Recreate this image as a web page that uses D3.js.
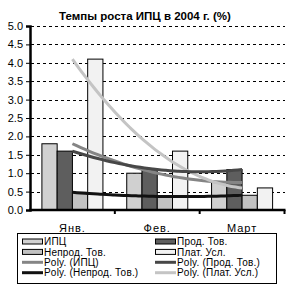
<!DOCTYPE html>
<html>
<head>
<meta charset="utf-8">
<script src="https://cdn.jsdelivr.net/npm/d3@7"></script>
<style>
  body { margin: 0; background: #fff; }
  svg { display: block; font-family: "Liberation Sans", Arial, sans-serif; }
</style>
</head>
<body>
<svg id="chart"></svg>
<script>
var width = 288;
var height = 288;

var months = ["Янв.", "Фев.", "Март"];
var series = ["ИПЦ", "Прод. Тов.", "Непрод. Тов.", "Плат. Усл."];
var cpi = [1.8, 1.0, 0.75];
var food = [1.6, 1.1, 1.1];
var nonFood = [0.48, 0.37, 0.4];
var services = [4.1, 1.6, 0.6];
var yTicks = [0, 0.5, 1, 1.5, 2, 2.5, 3, 3.5, 4, 4.5, 5];

var barColors = ["#d0d0d0", "#5e5e5e", "#c2c2c2", "#f2f2f2"];
var trendColors = ["#858585", "#474747", "#111111", "#c4c4c4"];
var values = [cpi, food, nonFood, services];

var svg = d3.select("#chart").attr("width", width).attr("height", height);

var x0 = d3.scaleBand().domain(months).range([30, 284.5]);
var x1 = d3.scaleBand().domain(series).range([0, x0.bandwidth()]).paddingOuter(0.78);
var y = d3.scaleLinear().domain([0, 5]).range([210, 26]);

// title
svg.append("text")
  .attr("x", 145)
  .attr("y", 20)
  .attr("text-anchor", "middle")
  .attr("font-size", 11.5)
  .attr("font-weight", "bold")
  .text("Темпы роста ИПЦ в 2004 г. (%)");

// gridlines
svg.append("g")
  .selectAll("line")
  .data(yTicks.slice(1))
  .enter()
  .append("line")
  .attr("x1", 31)
  .attr("x2", 285)
  .attr("y1", function (d) { return Math.round(y(d)) + 0.5; })
  .attr("y2", function (d) { return Math.round(y(d)) + 0.5; })
  .attr("stroke", "#000")
  .attr("stroke-dasharray", "3,3");

// bars
var groups = svg.append("g")
  .selectAll("g")
  .data(months)
  .enter()
  .append("g")
  .attr("transform", function (d) { return "translate(" + x0(d) + ",0)"; });

groups.selectAll("rect")
  .data(function (m, i) {
    return series.map(function (s, j) { return { s: s, j: j, v: values[j][i] }; });
  })
  .enter()
  .append("rect")
  .attr("x", function (d) { return x1(d.s); })
  .attr("y", function (d) { return y(d.v); })
  .attr("width", x1.bandwidth())
  .attr("height", function (d) { return y(0) - y(d.v); })
  .attr("fill", function (d) { return barColors[d.j]; })
  .attr("stroke", "#000")
  .attr("stroke-width", 1);

// polynomial (order 2) trendlines, as Excel draws them
function polyFit(vals) {
  return function (t) {
    var l0 = (t - 1) * (t - 2) / 2;
    var l1 = -t * (t - 2);
    var l2 = t * (t - 1) / 2;
    return vals[0] * l0 + vals[1] * l1 + vals[2] * l2;
  };
}

var tSteps = d3.range(0, 2.0001, 0.05);
var centerX = function (t) {
  return x0(months[0]) + x0.bandwidth() / 2 + t * x0.step();
};

var line = d3.line()
  .x(function (d) { return d[0]; })
  .y(function (d) { return d[1]; })
  .curve(d3.curveMonotoneX);

var trendOrder = [0, 3, 1, 2];
trendOrder.forEach(function (j) {
  var f = polyFit(values[j]);
  svg.append("path")
    .attr("d", line(tSteps.map(function (t) { return [centerX(t), y(f(t))]; })))
    .attr("fill", "none")
    .attr("stroke", trendColors[j])
    .attr("stroke-width", 3);
});

// y axis
var yAxis = svg.append("g")
  .attr("transform", "translate(30,0)")
  .call(d3.axisLeft(y).tickValues(yTicks).tickFormat(d3.format(".1f")).tickSize(4).tickPadding(3));
yAxis.select(".domain").attr("stroke-width", 2.5);
yAxis.selectAll("text").attr("font-size", 11).attr("font-family", "Liberation Sans, Arial, sans-serif").attr("fill", "#000");

// x axis
svg.append("line")
  .attr("x1", 29).attr("x2", 285.5)
  .attr("y1", 210).attr("y2", 210)
  .attr("stroke", "#000").attr("stroke-width", 2.5);

svg.append("g")
  .selectAll("line")
  .data(months)
  .enter()
  .append("line")
  .attr("x1", function (d) { return x0(d) + x0.bandwidth(); })
  .attr("x2", function (d) { return x0(d) + x0.bandwidth(); })
  .attr("y1", 210).attr("y2", 214)
  .attr("stroke", "#000").attr("stroke-width", 2);

svg.append("g")
  .selectAll("text")
  .data(months)
  .enter()
  .append("text")
  .attr("x", function (d) { return x0(d) + x0.bandwidth() / 2; })
  .attr("y", 232)
  .attr("text-anchor", "middle")
  .attr("font-size", 11)
  .attr("letter-spacing", 1)
  .text(function (d) { return d; });

// legend
var legend = svg.append("g");
legend.append("rect")
  .attr("x", 17.5).attr("y", 233.5)
  .attr("width", 259).attr("height", 50)
  .attr("fill", "#fff").attr("stroke", "#000");

var legendItems = [];
series.forEach(function (s, j) { legendItems.push({ name: s, type: "bar", j: j }); });
series.forEach(function (s, j) { legendItems.push({ name: "Poly. (" + s + ")", type: "line", j: j }); });

legendItems.forEach(function (d, i) {
  var col = i % 2;
  var row = Math.floor(i / 2);
  var lx = col === 0 ? 22 : 155;
  var ly = 241.5 + row * 10.4;
  if (d.type === "bar") {
    legend.append("rect")
      .attr("x", lx + 0.5).attr("y", ly - 2.5)
      .attr("width", 20).attr("height", 5)
      .attr("fill", barColors[d.j]).attr("stroke", "#000");
  } else {
    legend.append("line")
      .attr("x1", lx).attr("x2", lx + 21)
      .attr("y1", ly).attr("y2", ly)
      .attr("stroke", trendColors[d.j]).attr("stroke-width", 3);
  }
  legend.append("text")
    .attr("x", lx + 22)
    .attr("y", ly + 3.6)
    .attr("font-size", 10)
    .attr("letter-spacing", 0.2)
    .text(d.name);
});
</script>
</body>
</html>
